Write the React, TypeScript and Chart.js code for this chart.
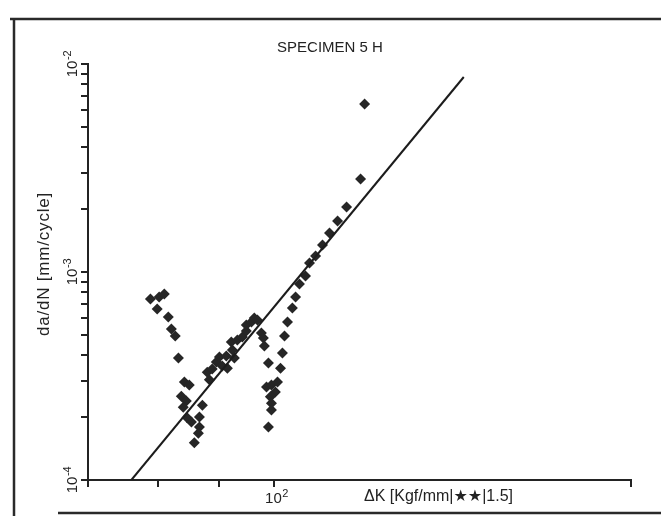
import React, { useEffect, useRef } from 'react';
import { Chart, registerables } from 'chart.js';

Chart.register(...registerables);

// Measured crack growth data: ΔK (x) and da/dN (y)
const deltaK = [
  44.9, 47.5, 49.1, 46.9, 50.4, 51.4, 52.7, 53.8,
  55.9, 57.7, 54.8, 56.6, 55.5, 56.9, 58.5, 61.6, 62.8, 61.6, 61.2, 59.6,
  65.7, 64.8, 66.9, 68.7, 70.1, 71.4, 73.8, 73.3, 76.2, 77.2, 75.7, 78.7,
  81.3, 83.4, 83.4, 86.2, 87.8, 89.6,
  91.9, 93.1, 93.7, 96.2, 95.0, 98.1, 100.6, 102.0, 97.4, 98.1, 98.1, 96.2,
  104.0, 105.3, 106.7, 108.8, 112.3, 114.6, 117.5, 122.2, 125.4, 130.4,
  136.4, 142.7, 150.3, 159.3, 174.4, 179.0,
];
const dadN = [
  7.42e-4, 7.58e-4, 7.84e-4, 6.64e-4, 6.08e-4, 5.32e-4, 4.92e-4, 3.86e-4,
  2.96e-4, 2.86e-4, 2.53e-4, 2.40e-4, 2.24e-4, 1.99e-4, 1.90e-4, 2.01e-4, 2.29e-4, 1.80e-4, 1.68e-4, 1.51e-4,
  3.03e-4, 3.30e-4, 3.42e-4, 3.69e-4, 3.90e-4, 3.53e-4, 3.45e-4, 3.95e-4, 4.22e-4, 3.86e-4, 4.61e-4, 4.71e-4,
  4.87e-4, 5.20e-4, 5.56e-4, 5.75e-4, 6.01e-4, 5.88e-4,
  5.09e-4, 4.82e-4, 4.41e-4, 3.65e-4, 2.80e-4, 2.86e-4, 2.65e-4, 2.96e-4, 2.51e-4, 2.34e-4, 2.17e-4, 1.80e-4,
  3.45e-4, 4.08e-4, 4.92e-4, 5.75e-4, 6.71e-4, 7.58e-4, 8.76e-4, 9.57e-4, 1.105e-3, 1.193e-3,
  1.349e-3, 1.540e-3, 1.758e-3, 2.054e-3, 2.80e-3, 6.42e-3,
];

// Fitted Paris-law line end points
const fitDeltaK = [39.7, 339.6];
const fitDadN = [1.0e-4, 8.66e-3];

// Axis ticks
const xMin = 30;
const xMax = 1000;
const yMin = 1e-4;
const yMax = 1e-2;
const xTickValues = [30, 47, 70, 100, 1000];
const yTickValues = [
  1e-4, 2e-4, 3e-4, 4e-4, 5e-4, 6e-4, 7e-4, 8e-4, 9e-4,
  1e-3, 2e-3, 3e-3, 4e-3, 5e-3, 6e-3, 7e-3, 8e-3, 9e-3, 1e-2,
];
const xLabelValues = [100];
const xLabelExps = ['2'];
const yLabelValues = [1e-4, 1e-3, 1e-2];
const yLabelExps = ['-4', '-3', '-2'];

const titleText = 'SPECIMEN 5 H';
const yTitleText = 'da/dN [mm/cycle]';
const xTitleText = 'ΔK [Kgf/mm|★★|1.5]';

const FONT = '"Liberation Sans", Arial, "DejaVu Sans", sans-serif';
const INK = '#232323';

function drawPower(ctx: CanvasRenderingContext2D, exp: string) {
  ctx.font = `15px ${FONT}`;
  const wb = ctx.measureText('10').width;
  ctx.font = `11px ${FONT}`;
  const we = ctx.measureText(exp).width;
  const start = -(wb + we) / 2;
  ctx.textAlign = 'left';
  ctx.textBaseline = 'alphabetic';
  ctx.font = `15px ${FONT}`;
  ctx.fillText('10', start, 0);
  ctx.font = `11px ${FONT}`;
  ctx.fillText(exp, start + wb + 0.5, -6);
}

const decorPlugin = {
  id: 'decor',
  beforeDraw(chart: any) {
    const { ctx, width, height } = chart;
    ctx.save();
    ctx.fillStyle = '#ffffff';
    ctx.fillRect(0, 0, width, height);
    ctx.strokeStyle = '#2a2a2a';
    ctx.lineWidth = 2.5;
    ctx.beginPath();
    ctx.moveTo(10, 19);
    ctx.lineTo(width, 19);
    ctx.moveTo(14, 19);
    ctx.lineTo(14, 516);
    ctx.moveTo(58, 513);
    ctx.lineTo(width, 513);
    ctx.stroke();
    ctx.restore();
  },
  afterDraw(chart: any) {
    const { ctx, chartArea } = chart;
    const xs = chart.scales.x;
    const ys = chart.scales.y;
    ctx.save();

    // reinforce axis tick marks at the scale's tick values
    ctx.strokeStyle = INK;
    ctx.lineWidth = 2;
    ctx.beginPath();
    yTickValues.forEach((v) => {
      const py = Math.round(ys.getPixelForValue(v));
      ctx.moveTo(chartArea.left - 7, py);
      ctx.lineTo(chartArea.left, py);
    });
    xTickValues.forEach((v) => {
      const px = Math.round(xs.getPixelForValue(v));
      ctx.moveTo(px, chartArea.bottom);
      ctx.lineTo(px, chartArea.bottom + 7);
    });
    ctx.stroke();

    ctx.fillStyle = INK;

    // title
    ctx.font = `15px ${FONT}`;
    ctx.textAlign = 'center';
    ctx.textBaseline = 'alphabetic';
    ctx.fillText(titleText, 330, 52);

    // x tick labels
    xLabelValues.forEach((v, i) => {
      const px = xs.getPixelForValue(v);
      ctx.save();
      ctx.translate(px + 2, 503);
      drawPower(ctx, xLabelExps[i]);
      ctx.restore();
    });

    // y tick labels (rotated)
    yLabelValues.forEach((v, i) => {
      const py = ys.getPixelForValue(v);
      ctx.save();
      ctx.translate(77, py);
      ctx.rotate(-Math.PI / 2);
      drawPower(ctx, yLabelExps[i]);
      ctx.restore();
    });

    // y title
    ctx.save();
    ctx.translate(49, 264);
    ctx.rotate(-Math.PI / 2);
    ctx.font = `17px ${FONT}`;
    (ctx as any).letterSpacing = '0.8px';
    ctx.textAlign = 'center';
    ctx.textBaseline = 'alphabetic';
    ctx.fillText(yTitleText, 0, 0);
    ctx.restore();

    // x title
    ctx.font = `16px ${FONT}`;
    ctx.textAlign = 'left';
    ctx.textBaseline = 'alphabetic';
    ctx.fillText(xTitleText, 364, 501);

    ctx.restore();
  },
};

export default function App() {
  const canvasRef = useRef<HTMLCanvasElement | null>(null);

  useEffect(() => {
    const canvas = canvasRef.current;
    if (!canvas) return;
    const points = deltaK.map((x, i) => ({ x, y: dadN[i] }));
    const fit = fitDeltaK.map((x, i) => ({ x, y: fitDadN[i] }));

    const chart = new Chart(canvas, {
      type: 'scatter',
      data: {
        datasets: [
          {
            label: 'fit',
            data: fit,
            showLine: true,
            borderColor: '#1c1c1c',
            borderWidth: 2,
            pointRadius: 0,
            fill: false,
          },
          {
            label: 'data',
            data: points,
            pointStyle: 'rectRot',
            pointRadius: 5.5,
            backgroundColor: '#262626',
            borderColor: '#262626',
            borderWidth: 0,
          },
        ],
      },
      options: {
        animation: false,
        responsive: false,
        maintainAspectRatio: false,
        devicePixelRatio: 1,
        layout: { padding: { top: 64, right: 30, bottom: 0, left: 0 } },
        plugins: {
          legend: { display: false },
          tooltip: { enabled: false },
          title: { display: false },
        },
        scales: {
          x: {
            type: 'logarithmic',
            position: 'bottom',
            min: xMin,
            max: xMax,
            afterBuildTicks: (s: any) => {
              s.ticks = xTickValues.map((v) => ({ value: v }));
            },
            afterFit: (s: any) => {
              s.height = 42;
            },
            ticks: { display: false },
            grid: {
              drawOnChartArea: false,
              drawTicks: true,
              tickLength: 7,
              color: INK,
              lineWidth: 2,
            },
            border: { display: true, color: INK, width: 2 },
          },
          y: {
            type: 'logarithmic',
            position: 'left',
            min: yMin,
            max: yMax,
            afterBuildTicks: (s: any) => {
              s.ticks = yTickValues.map((v) => ({ value: v }));
            },
            afterFit: (s: any) => {
              s.width = 88;
            },
            ticks: { display: false },
            grid: {
              drawOnChartArea: false,
              drawTicks: true,
              tickLength: 7,
              color: INK,
              lineWidth: 2,
            },
            border: { display: true, color: INK, width: 2 },
          },
        },
      },
      plugins: [decorPlugin],
    } as any);

    return () => {
      chart.destroy();
    };
  }, []);

  return (
    <div style={{ position: 'fixed', left: 0, top: 0, width: 661, height: 522, background: '#fff' }}>
      <canvas ref={canvasRef} width={661} height={522} style={{ width: 661, height: 522, display: 'block' }} />
    </div>
  );
}
